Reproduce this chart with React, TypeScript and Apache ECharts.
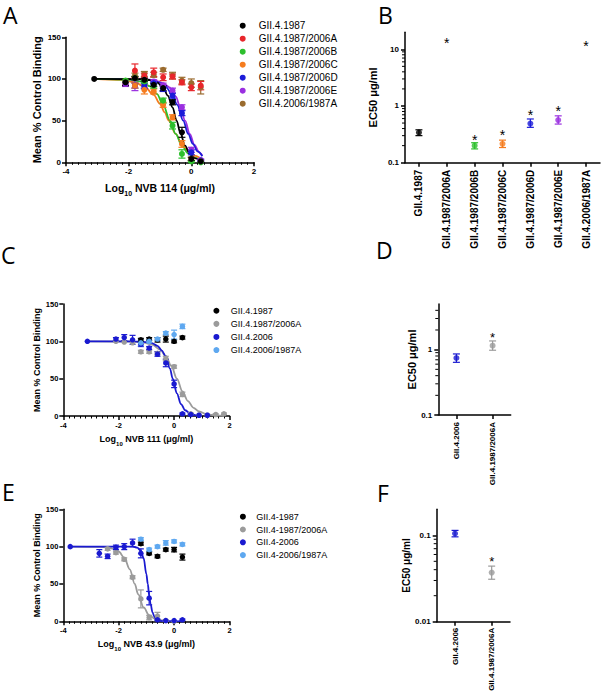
import React, { useEffect, useRef } from "react";
import * as echarts from "echarts";

const FONT = "Liberation Sans";

// ---------------- Panel A ----------------
const namesA = ["GII.4.1987", "GII.4.1987/2006A", "GII.4.1987/2006B", "GII.4.1987/2006C", "GII.4.1987/2006D", "GII.4.1987/2006E", "GII.4.2006/1987A"];
const colorsA = ["#000000", "#e8262b", "#2dbf2d", "#f57c1f", "#1c1cd8", "#9a2fe0", "#9a6b2e"];
const doseA = [-2.1, -1.8, -1.5, -1.2, -0.9, -0.6, -0.3, 0, 0.3];
const controlA = [-3.1, 100];
const A_1987 = [96, 101, 99, 93, 89, 72, 36, 4, 1];
const A_1987_err = [4, 2, 2, 2, 3, 3, 6, 2, 0];
const A_2006A = [null, 110, 104, 108, 102, 103, 96, 90, 92];
const A_2006A_err = [0, 8, 3, 5, 4, 3, 3, 4, 5];
const A_2006B = [98, 101, 97, 92, 74, 44, 10, 1, 0];
const A_2006B_err = [2, 2, 2, 3, 3, 4, 5, 1, 0];
const A_2006C = [97, 92, 87, 85, 69, 54, 22, 4, 1];
const A_2006C_err = [3, 3, 5, 3, 3, 3, 4, 2, 0];
const A_2006D = [96, 92, 92, 95, 88, 80, 59, 12, 2];
const A_2006D_err = [3, 3, 3, 2, 3, 3, 3, 3, 1];
const A_2006E = [94, 92, 91, 97, 92, 86, 66, 15, 3];
const A_2006E_err = [3, 6, 3, 2, 3, 3, 3, 3, 1];
const A_1987A = [null, 104, 106, 105, 111, 104, 98, 95, 90];
const A_1987A_err = [0, 3, 3, 3, 2, 4, 4, 5, 8];
const fitA_1987 = [[-3.1, 100], [-1.6, 99.7], [-1.3, 98.5], [-1.1, 96], [-0.9, 90], [-0.75, 80], [-0.6, 66], [-0.47, 50], [-0.35, 35], [-0.2, 20], [-0.05, 10], [0.1, 5], [0.3, 2]];
const fitA_2006B = [[-3.1, 100], [-2, 99.2], [-1.6, 97], [-1.3, 91], [-1.1, 82], [-0.9, 69], [-0.68, 50], [-0.5, 34], [-0.3, 20], [-0.1, 10.6], [0.1, 5.3], [0.3, 2.6]];
const fitA_2006C = [[-3.1, 100], [-2.2, 98.8], [-1.8, 96], [-1.5, 91], [-1.2, 81], [-1.0, 70], [-0.85, 60], [-0.72, 50], [-0.5, 34], [-0.3, 22], [-0.1, 13.5], [0.1, 8], [0.3, 4.5]];
const fitA_2006D = [[-3.1, 100], [-1.6, 99.6], [-1.3, 98.7], [-1.0, 95.5], [-0.8, 90], [-0.6, 80], [-0.45, 69], [-0.26, 50], [-0.1, 34], [0.05, 22], [0.2, 13], [0.35, 7.4]];
const fitA_2006E = [[-3.1, 100], [-1.5, 99.7], [-1.2, 98.7], [-0.9, 95], [-0.7, 90], [-0.5, 79], [-0.35, 66], [-0.2, 50], [-0.05, 34], [0.1, 21], [0.25, 12], [0.35, 8]];

// ---------------- Panel B ----------------
const catsB = namesA;
const ec50B = [0.34, null, 0.2, 0.215, 0.49, 0.565, null];
const ec50B_lo = [0.3, null, 0.175, 0.185, 0.42, 0.48, null];
const ec50B_hi = [0.38, null, 0.225, 0.25, 0.59, 0.67, null];
const starB = [null, 13.6, 0.27, 0.32, 0.74, 0.85, 11.9];

// ---------------- Panel C ----------------
const namesC = ["GII.4.1987", "GII.4.1987/2006A", "GII.4.2006", "GII.4.2006/1987A"];
const colorsCE = ["#000000", "#9b9b9b", "#1a1ad0", "#5ea8f0"];
const doseC = [-2.1, -1.8, -1.5, -1.2, -0.9, -0.6, -0.3, 0, 0.3, 0.6, 0.9, 1.2, 1.5, 1.8];
const controlC = [-3.13, 100];
const C_1987 = [null, null, null, 102, 103, 102, 103, 100, 105, null, null, null, null, null];
const C_1987_err = [0, 0, 0, 2, 2, 3, 4, 2, 2, 0, 0, 0, 0, 0];
const C_1987_2006A = [100, 99, 98, 86, 86, 84, 77, 66, 29, 3, 1, 1, 2, 3];
const C_1987_2006A_err = [0, 0, 0, 2, 2, 2, 3, 2, 3, 1, 0, 0, 1, 1];
const C_2006 = [103, 105, 102, 96, 91, 83, 71, 43, 3, 2, 1, 1, null, null];
const C_2006_err = [2, 4, 6, 3, 2, 3, 5, 5, 1, 1, 0, 0, 0, 0];
const C_2006_1987A = [null, null, null, 98, 100, 103, 111, 109, 120, null, null, null, null, null];
const C_2006_1987A_err = [0, 0, 0, 4, 2, 2, 2, 6, 3, 0, 0, 0, 0, 0];
const fitC_1987_2006A = [[-3.13, 100], [-1.5, 99.6], [-1.1, 98.2], [-0.8, 95.7], [-0.5, 89], [-0.3, 80], [-0.1, 67], [0.1, 50], [0.3, 33], [0.5, 20], [0.7, 11], [0.9, 6], [1.2, 2.2], [1.5, 0.8], [1.8, 0.3]];
const fitC_2006 = [[-3.13, 100], [-1.5, 99.9], [-1.1, 99.4], [-0.8, 97.6], [-0.6, 94], [-0.45, 88], [-0.3, 80], [-0.15, 63.5], [-0.05, 50], [0.1, 30.4], [0.25, 16], [0.4, 7.7], [0.6, 2.7], [0.8, 0.9], [1.0, 0.3]];

// ---------------- Panel D ----------------
const catsDF = ["GII.4.2006", "GII.4.1987/2006A"];
const colorsDF = ["#1a1ad0", "#9b9b9b"];
const ec50D = [0.745, 1.15];
const ec50D_lo = [0.64, 0.98];
const ec50D_hi = [0.86, 1.36];
const starD = [null, 1.6];

// ---------------- Panel E ----------------
const namesE = ["GII.4-1987", "GII.4-1987/2006A", "GII.4-2006", "GII.4-2006/1987A"];
const doseE = [-2.7, -2.4, -2.1, -1.8, -1.5, -1.2, -0.9, -0.6, -0.3, 0, 0.3];
const controlE = [-3.75, 100];
const E_1987 = [null, null, null, null, null, 104, 91, 87, 96, 96, 86];
const E_1987_err = [0, 0, 0, 0, 0, 2, 2, 2, 2, 3, 4];
const E_1987_2006A = [null, 97, 92, 83, 59, 30, 5, 7, 1, 0, null];
const E_1987_2006A_err = [0, 2, 2, 2, 2, 12, 3, 5, 1, 0, 0];
const E_2006 = [91, 87, 99, 100, 105, 91, 31, 2, 1, 1, 2];
const E_2006_err = [5, 3, 3, 4, 5, 6, 9, 1, 0, 0, 1];
const E_2006_1987A = [null, null, null, null, null, 110, 96, 100, 105, 107, 103];
const E_2006_1987A_err = [0, 0, 0, 0, 0, 2, 2, 2, 3, 2, 2];
const fitE_1987_2006A = [[-3.75, 100], [-2.7, 99.7], [-2.4, 98.9], [-2.2, 97.3], [-2.0, 93.5], [-1.8, 85], [-1.6, 69.6], [-1.42, 50], [-1.3, 36.5], [-1.1, 18.6], [-0.9, 8.3], [-0.7, 3.5], [-0.5, 1.4], [-0.3, 0.6]];
const fitE_2006 = [[-3.75, 100], [-1.5, 100], [-1.33, 98.7], [-1.2, 94.5], [-1.1, 84.5], [-1.0, 63], [-0.95, 50], [-0.9, 35], [-0.85, 23.4], [-0.78, 12], [-0.7, 5.2], [-0.6, 1.7], [-0.4, 0.2], [0.3, 0]];

// ---------------- Panel F ----------------
const ec50F = [0.105, 0.037];
const ec50F_lo = [0.096, 0.031];
const ec50F_hi = [0.114, 0.044];
const starF = [null, 0.0515];

// ============ helpers ============
const black = "#000000";
const lbl = (size: number) => ({ fontFamily: FONT, fontWeight: "bold" as const, fontSize: size, color: black });
const axLine = { show: true, onZero: false, lineStyle: { color: black, width: 1.5 } };

function doseAxis(gi: number, label: string, tick: number, nameSize: number, nameGap: number) {
  return {
    type: "value", gridIndex: gi, min: -4, max: 2, interval: 2,
    axisLine: axLine,
    axisTick: { show: true, length: 4, lineStyle: { color: black, width: 1.5 } },
    minorTick: { show: true, splitNumber: 10, length: 2.5, lineStyle: { color: black, width: 1 } },
    splitLine: { show: false }, minorSplitLine: { show: false },
    axisLabel: { ...lbl(tick), margin: 5 },
    name: `{b|Log}{s|10}{b| NVB ${label} (μg/ml)}`,
    nameLocation: "middle", nameGap,
    nameTextStyle: {
      rich: {
        b: { ...lbl(nameSize), verticalAlign: "top", lineHeight: nameSize + 2 },
        s: { ...lbl(Math.round(nameSize * 0.65)), verticalAlign: "bottom", lineHeight: nameSize + 4 },
      },
    },
  };
}

function bindAxis(gi: number, tick: number, nameSize: number, nameGap: number) {
  return {
    type: "value", gridIndex: gi, min: 0, max: 150, interval: 50,
    axisLine: axLine,
    axisTick: { show: true, length: 4, lineStyle: { color: black, width: 1.5 } },
    splitLine: { show: false },
    axisLabel: { ...lbl(tick), margin: 5 },
    name: "Mean % Control Binding", nameLocation: "middle", nameGap,
    nameTextStyle: lbl(nameSize),
  };
}

function ecAxis(gi: number, min: number, max: number, tick: number, nameSize: number, nameGap: number) {
  return {
    type: "log", logBase: 10, gridIndex: gi, min, max,
    axisLine: axLine,
    axisTick: { show: true, length: 4, lineStyle: { color: black, width: 1.5 } },
    splitLine: { show: false },
    axisLabel: { ...lbl(tick), margin: 6, showMaxLabel: false },
    name: "EC50 μg/ml", nameLocation: "middle", nameGap,
    nameTextStyle: lbl(nameSize),
  };
}

function catAxis(gi: number, data: string[], size: number, margin: number) {
  return {
    type: "category", gridIndex: gi, data, boundaryGap: true,
    axisLine: axLine,
    axisTick: { show: true, alignWithLabel: true, length: 4, lineStyle: { color: black, width: 1.5 } },
    axisLabel: { ...lbl(size), rotate: 90, margin, interval: 0 },
    splitLine: { show: false },
  };
}

function errBars(ai: number, rows: number[][], colors: string[], cap: number) {
  return {
    type: "custom", xAxisIndex: ai, yAxisIndex: ai, silent: true, z: 3,
    data: rows, encode: { x: 0, y: [1, 2] },
    renderItem: (params: any, api: any) => {
      const x = api.value(0), lo = api.value(1), hi = api.value(2);
      const a = api.coord([x, lo]);
      const b = api.coord([x, hi]);
      const st = { stroke: colors[params.dataIndex], lineWidth: 1.2 };
      return {
        type: "group",
        children: [
          { type: "line", shape: { x1: a[0], y1: a[1], x2: b[0], y2: b[1] }, style: st },
          { type: "line", shape: { x1: a[0] - cap, y1: a[1], x2: a[0] + cap, y2: a[1] }, style: st },
          { type: "line", shape: { x1: b[0] - cap, y1: b[1], x2: b[0] + cap, y2: b[1] }, style: st },
        ],
      };
    },
  };
}

function starSeries(ai: number, stars: (number | null)[], size: number) {
  const st: number[][] = [];
  stars.forEach((s, i) => { if (s != null) st.push([i, s]); });
  return {
    type: "custom", xAxisIndex: ai, yAxisIndex: ai, silent: true, clip: false, z: 5,
    data: st, encode: { x: 0, y: 1 },
    renderItem: (params: any, api: any) => {
      const p = api.coord([api.value(0), api.value(1)]);
      return {
        type: "text", x: p[0], y: p[1] + size * 0.1,
        style: { text: "*", fill: black, fontFamily: FONT, fontSize: size, align: "center", verticalAlign: "middle" },
      };
    },
  };
}

function logMinor(ai: number, vals: number[]) {
  return {
    type: "custom", xAxisIndex: ai, yAxisIndex: ai, silent: true, clip: false, z: 3,
    data: vals.map((v) => [0, v]), encode: { x: 0, y: 1 },
    renderItem: (params: any, api: any) => {
      const p = api.coord([0, api.value(1)]);
      const x0 = params.coordSys.x;
      return { type: "line", shape: { x1: x0 - 3, y1: p[1], x2: x0, y2: p[1] }, style: { stroke: black, lineWidth: 1 } };
    },
  };
}

function doseSeries(ai: number, name: string, color: string, dose: number[], vals: (number | null)[], err: number[], control: number[] | null, fit: number[][] | null, size: number, cap: number) {
  const pts: number[][] = [];
  const bars: number[][] = [];
  if (control) pts.push(control);
  dose.forEach((d, i) => {
    const v = vals[i];
    if (v == null) return;
    pts.push([d, v]);
    if (err[i] > 0) bars.push([d, Math.max(v - err[i], 0), v + err[i]]);
  });
  const out: any[] = [
    { type: "scatter", name, xAxisIndex: ai, yAxisIndex: ai, symbol: "circle", symbolSize: size, itemStyle: { color, opacity: 1 }, data: pts, z: 4 },
    errBars(ai, bars, bars.map(() => color), cap),
  ];
  if (fit) {
    out.push({ type: "line", name: "fit " + name, xAxisIndex: ai, yAxisIndex: ai, data: fit, showSymbol: false, symbol: "none", smooth: 0.35, smoothMonotone: "x", lineStyle: { color, width: 1.8 }, itemStyle: { color }, z: 2 });
  }
  return out;
}

function ecSeries(ai: number, vals: (number | null)[], lo: (number | null)[], hi: (number | null)[], stars: (number | null)[], colors: string[], size: number, cap: number, starSize: number) {
  const pts: any[] = [];
  const bars: number[][] = [];
  const barColors: string[] = [];
  vals.forEach((v, i) => {
    if (v == null) return;
    pts.push({ value: [i, v], itemStyle: { color: colors[i] } });
    bars.push([i, lo[i] as number, hi[i] as number]);
    barColors.push(colors[i]);
  });
  return [
    { type: "scatter", xAxisIndex: ai, yAxisIndex: ai, symbol: "circle", symbolSize: size, data: pts, z: 4 },
    errBars(ai, bars, barColors, cap),
    starSeries(ai, stars, starSize),
  ];
}

function legendFor(names: string[], colors: string[], left: number, top: number, iconW: number, size: number, step: number) {
  return {
    orient: "vertical", left, top, padding: 0, itemGap: 0, itemWidth: iconW, itemHeight: 6, icon: "circle",
    textStyle: { fontFamily: FONT, fontSize: size, color: black, lineHeight: step },
    data: names.map((n, i) => ({ name: n, itemStyle: { color: colors[i] }, icon: "circle" })),
    selectedMode: false,
  };
}

function buildOption() {
  const series: any[] = [];
  const A_vals = [A_1987, A_2006A, A_2006B, A_2006C, A_2006D, A_2006E, A_1987A];
  const A_errs = [A_1987_err, A_2006A_err, A_2006B_err, A_2006C_err, A_2006D_err, A_2006E_err, A_1987A_err];
  const A_fits = [fitA_1987, null, fitA_2006B, fitA_2006C, fitA_2006D, fitA_2006E, null];
  for (let i = namesA.length - 1; i >= 0; i--) {
    series.push(...doseSeries(0, namesA[i], colorsA[i], doseA, A_vals[i], A_errs[i], i === 0 ? controlA : null, A_fits[i], 6, 3.5));
  }
  series.push(...ecSeries(1, ec50B, ec50B_lo, ec50B_hi, starB, colorsA, 6, 3.5, 14));
  series.push(logMinor(1, [0.2, 0.3, 0.4, 0.5, 0.6, 0.7, 0.8, 0.9, 2, 3, 4, 5, 6, 7, 8, 9]));

  const C_vals = [C_1987, C_1987_2006A, C_2006, C_2006_1987A];
  const C_errs = [C_1987_err, C_1987_2006A_err, C_2006_err, C_2006_1987A_err];
  const C_fits = [null, fitC_1987_2006A, fitC_2006, null];
  const order = [1, 2, 0, 3];
  for (const i of order) {
    series.push(...doseSeries(2, namesC[i], colorsCE[i], doseC, C_vals[i], C_errs[i], i === 2 ? controlC : null, C_fits[i], 5.5, 3));
  }
  series.push(...ecSeries(3, ec50D, ec50D_lo, ec50D_hi, starD, colorsDF, 6, 3.5, 13));
  series.push(logMinor(3, [0.2, 0.3, 0.4, 0.5, 0.6, 0.7, 0.8, 0.9, 2, 3, 4]));

  const E_vals = [E_1987, E_1987_2006A, E_2006, E_2006_1987A];
  const E_errs = [E_1987_err, E_1987_2006A_err, E_2006_err, E_2006_1987A_err];
  const E_fits = [null, fitE_1987_2006A, fitE_2006, null];
  for (const i of order) {
    series.push(...doseSeries(4, namesE[i], colorsCE[i], doseE, E_vals[i], E_errs[i], i === 2 ? controlE : null, E_fits[i], 5.5, 3));
  }
  series.push(...ecSeries(5, ec50F, ec50F_lo, ec50F_hi, starF, colorsDF, 6, 3.5, 13));
  series.push(logMinor(5, [0.02, 0.03, 0.04, 0.05, 0.06, 0.07, 0.08, 0.09]));

  const letter = (t: string, x: number, y: number) => ({
    type: "text", x, y,
    style: { text: t, fontFamily: "Open Sans", fontSize: 23, lineHeight: 23, fill: black, verticalAlign: "middle", align: "left" },
  });

  return {
    animation: false,
    backgroundColor: "#ffffff",
    grid: [
      { left: 66, top: 37.3, width: 188, height: 125 },
      { left: 405, top: 32.2, width: 195, height: 130.5 },
      { left: 63.3, top: 304, width: 166.2, height: 112 },
      { left: 438.3, top: 304, width: 72.4, height: 111 },
      { left: 63.3, top: 509.3, width: 166.2, height: 112 },
      { left: 436.7, top: 509.3, width: 73.3, height: 112.4 },
    ],
    xAxis: [
      doseAxis(0, "114", 8, 10.5, 20),
      catAxis(1, catsB, 10, 7),
      doseAxis(2, "111", 7.5, 9, 18),
      catAxis(3, catsDF, 8, 7),
      doseAxis(4, "43.9", 7.5, 9, 18),
      catAxis(5, catsDF, 8, 6),
    ],
    yAxis: [
      bindAxis(0, 8, 11, 23.5),
      ecAxis(1, 0.1, 20, 8, 11, 27),
      bindAxis(2, 7.5, 9, 20),
      ecAxis(3, 0.1, 5, 8, 11, 19),
      bindAxis(4, 7.5, 9, 19.5),
      ecAxis(5, 0.01, 0.2, 8, 10, 21),
    ],
    legend: [
      legendFor(namesA, colorsA, 239.7, 19.2, 22, 10, 13),
      legendFor(namesC, colorsCE, 213.4, 304.2, 18.6, 9, 13.1),
      legendFor(namesE, colorsCE, 239.9, 510.3, 16.8, 9, 12.8),
    ],
    graphic: [
      letter("A", 3, 15), letter("B", 378, 15), letter("C", 1, 255),
      letter("D", 376, 250), letter("E", 2, 491.5), letter("F", 377, 493),
    ],
    series,
  };
}

export default function App() {
  const ref = useRef<HTMLDivElement>(null);
  useEffect(() => {
    const chart = echarts.init(ref.current as HTMLDivElement, null, { renderer: "svg" });
    chart.setOption(buildOption() as any);
    return () => chart.dispose();
  }, []);
  return <div ref={ref} style={{ position: "absolute", left: 0, top: 0, width: 605, height: 696, background: "#fff" }} />;
}
